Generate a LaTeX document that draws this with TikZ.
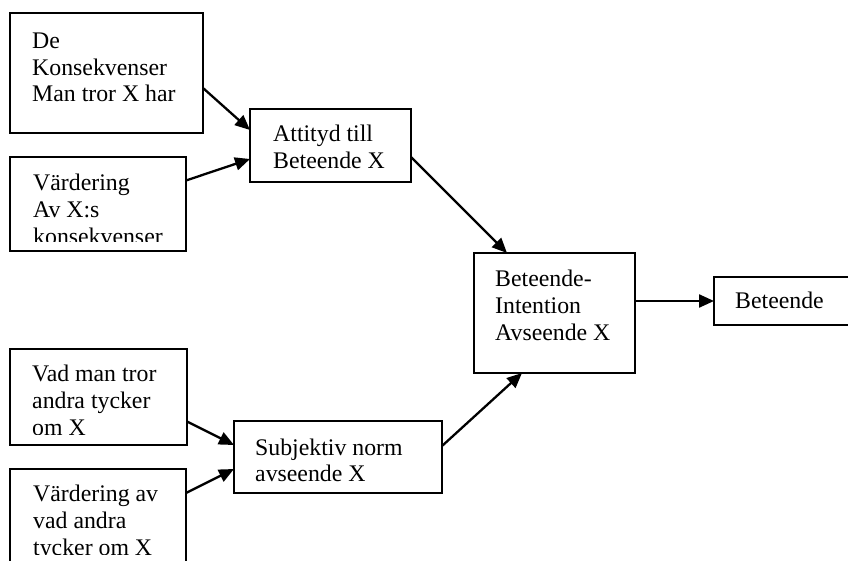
\documentclass[tikz,border=0pt]{standalone}
\usepackage{fontspec}
\setmainfont{Liberation Serif}
\usetikzlibrary{arrows.meta}
\begin{document}
\begin{tikzpicture}[x=1pt,y=-1pt,
  box/.style={draw,line width=1.9pt,rectangle,anchor=north west,inner sep=0pt,outer sep=0pt},
  txt/.style={anchor=base west,inner sep=0pt,font=\fontsize{23.8pt}{26.8pt}\selectfont},
  arr/.style={line width=2.3pt,-{Triangle[length=15pt,width=13pt]}}]
\useasboundingbox (0,0) rectangle (848,561);
\clip (0,0) rectangle (848,561);
% boxes
\node[box,minimum width=193pt,minimum height=120pt] (b1) at (10,13) {};
\node[box,minimum width=176pt,minimum height=94pt] (b2) at (10,157) {};
\node[box,minimum width=161pt,minimum height=73pt] (b3) at (250,109) {};
\node[box,minimum width=161pt,minimum height=120pt] (b4) at (474,253) {};
\node[box,minimum width=150pt,minimum height=48pt] (b5) at (714,277) {};
\node[box,minimum width=177pt,minimum height=96pt] (b6) at (10,349) {};
\node[box,minimum width=208pt,minimum height=72pt] (b7) at (234,421) {};
\node[box,minimum width=176pt,minimum height=120pt] (b8) at (10,469) {};
% texts
\node[txt] (t1) at (32,48.3) {\begin{tabular}[t]{@{}l@{}}De\\Konsekvenser\\Man tror X har\end{tabular}};
\begin{scope}
\clip (10,157) rectangle (186,241.5);
\node[txt] (t2) at (33,190.5) {\begin{tabular}[t]{@{}l@{}}Värdering\\Av X:s\\konsekvenser\end{tabular}};
\end{scope}
\node[txt] (t3) at (273,141.7) {\begin{tabular}[t]{@{}l@{}}Attityd till\\Beteende X\end{tabular}};
\node[txt] (t4) at (495,286.5) {\begin{tabular}[t]{@{}l@{}}Beteende-\\Intention\\Avseende X\end{tabular}};
\node[txt] (t5) at (735,308.3) {Beteende};
\begin{scope}
\clip (10,349) rectangle (187,434);
\node[txt] (t6) at (32,381.7) {\begin{tabular}[t]{@{}l@{}}Vad man tror\\andra tycker\\om X\end{tabular}};
\end{scope}
\node[txt] (t7) at (255,455) {\begin{tabular}[t]{@{}l@{}}Subjektiv norm\\avseende X\end{tabular}};
\begin{scope}
\clip (10,469) rectangle (186,554);
\node[txt] (t8) at (33,501.7) {\begin{tabular}[t]{@{}l@{}}Värdering av\\vad andra\\tycker om X\end{tabular}};
\end{scope}
% arrows
\draw[arr] ([yshift=-15pt]b1.east) -- ([yshift=15.5pt]b3.west);
\draw[arr] ([yshift=23.5pt]b2.east) -- ([yshift=-13.5pt]b3.west);
\draw[arr] ([yshift=-11.5pt]b3.east) -- ([xshift=-47.5pt]b4.north);
\draw[arr] (b4.east |- b5.west) -- (b5.west);
\draw[arr] ([yshift=-24.5pt]b6.east) -- ([yshift=12pt]b7.west);
\draw[arr] ([yshift=-24pt]b8.north east) -- ([yshift=-12pt]b7.west);
\draw[arr] ([yshift=11pt]b7.east) -- ([xshift=-32.5pt]b4.south);
\end{tikzpicture}
\end{document}
